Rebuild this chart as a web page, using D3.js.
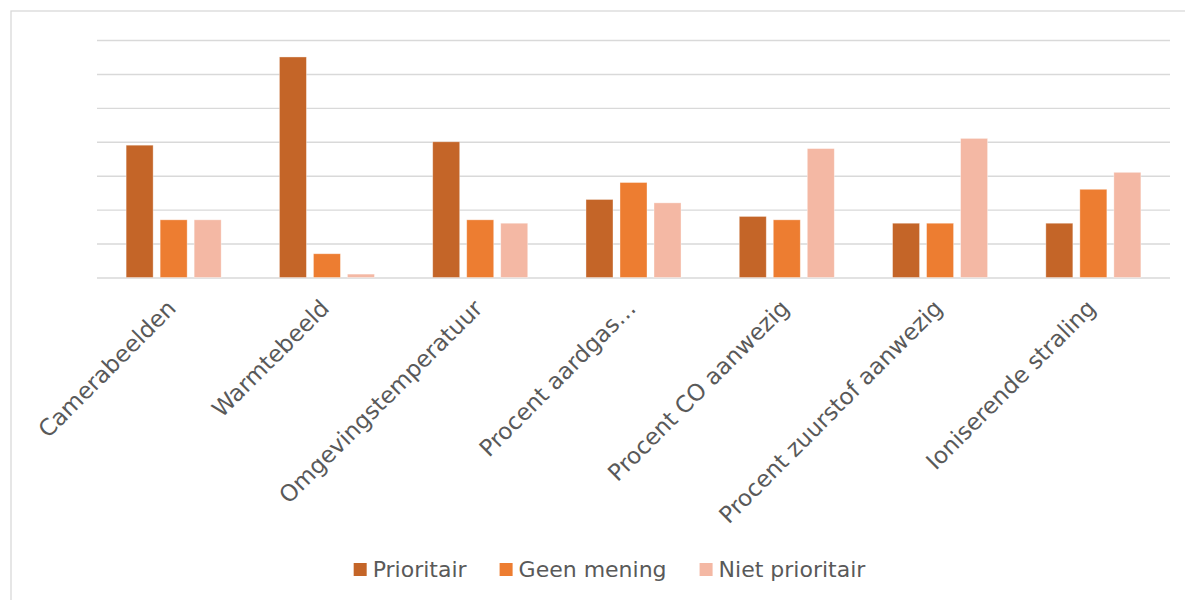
<!DOCTYPE html>
<html>
<head>
<meta charset="utf-8">
<script src="https://cdn.jsdelivr.net/npm/d3@7"></script>
<style>
  html, body { margin: 0; padding: 0; background: #ffffff; }
  svg { display: block; }
</style>
</head>
<body>
<svg id="chart" width="1185" height="600"></svg>
<script>
const categories = ["Camerabeelden", "Warmtebeeld", "Omgevingstemperatuur", "Procent aardgas\u2026", "Procent CO aanwezig", "Procent zuurstof aanwezig", "Ioniserende straling"];
const seriesNames = ["Prioritair", "Geen mening", "Niet prioritair"];
const prioritair = [39, 65, 40, 23, 18, 16, 16];
const geenMening = [17, 7, 17, 28, 17, 16, 26];
const nietPrioritair = [17, 1, 16, 22, 38, 41, 31];
const yTicks = [0, 10, 20, 30, 40, 50, 60, 70];
const colors = ["#C46528", "#ED7D31", "#F4B8A4"];

const seriesValues = [prioritair, geenMening, nietPrioritair];
const svg = d3.select("#chart");

// outer chart border
svg.append("rect")
  .attr("x", 11).attr("y", 11)
  .attr("width", 1260).attr("height", 700)
  .attr("fill", "#ffffff")
  .attr("stroke", "#d9d9d9")
  .attr("stroke-width", 1.3);

const x0 = d3.scaleBand().domain(categories).range([97, 1170])
  .paddingInner(0.38).paddingOuter(0.19);
const x1 = d3.scaleBand().domain(seriesNames).range([0, x0.bandwidth()])
  .paddingInner(0.206).paddingOuter(0);
const y = d3.scaleLinear().domain([0, 70]).range([277.5, 40]);

// gridlines via axis
const gridAxis = d3.axisLeft(y).tickValues(yTicks).tickSize(-(1170 - 97)).tickFormat("");
const g = svg.append("g").attr("transform", "translate(97,0)").call(gridAxis);
g.select(".domain").remove();
g.selectAll(".tick line").attr("stroke", "#d9d9d9").attr("stroke-width", 1.4);

// bars
const groups = svg.append("g").selectAll("g")
  .data(categories)
  .join("g")
  .attr("transform", d => `translate(${x0(d)},0)`);

groups.selectAll("rect")
  .data((d, i) => seriesNames.map((s, j) => ({ s, j, v: seriesValues[j][i] })))
  .join("rect")
  .attr("x", d => x1(d.s))
  .attr("width", x1.bandwidth())
  .attr("y", d => y(d.v))
  .attr("height", d => y(0) - y(d.v))
  .attr("fill", d => colors[d.j])
  .attr("stroke", "#ffffff")
  .attr("stroke-opacity", 0.45)
  .attr("stroke-width", 0.8);

// category labels rotated -45
svg.append("g").selectAll("text")
  .data(categories)
  .join("text")
  .attr("transform", d => `translate(${x0(d) + x0.bandwidth() / 2 - 2},304) rotate(-45)`)
  .attr("text-anchor", "end")
  .attr("dy", "0.35em")
  .attr("font-family", "'DejaVu Sans', sans-serif")
  .attr("font-size", 23)
  .attr("fill", "#595959")
  .text(d => d);

// legend
const legend = svg.append("g");
const items = legend.selectAll("g").data(seriesNames).join("g");
items.append("rect")
  .attr("width", 13).attr("height", 13)
  .attr("y", 563)
  .attr("fill", (d, i) => colors[i]);
items.append("text")
  .attr("x", 19).attr("y", 577)
  .attr("font-family", "'DejaVu Sans', sans-serif")
  .attr("font-size", 22)
  .attr("fill", "#595959")
  .text(d => d);

let widths = [];
items.each(function() {
  widths.push(d3.select(this).select("text").node().getComputedTextLength());
});
const itemW = widths.map(w => 19 + w);
const gap = 33;
const total = d3.sum(itemW) + gap * (itemW.length - 1);
let cx = 609.5 - total / 2;
items.each(function(d, i) {
  d3.select(this).attr("transform", `translate(${cx},0)`);
  cx += itemW[i] + gap;
});
</script>
</body>
</html>
